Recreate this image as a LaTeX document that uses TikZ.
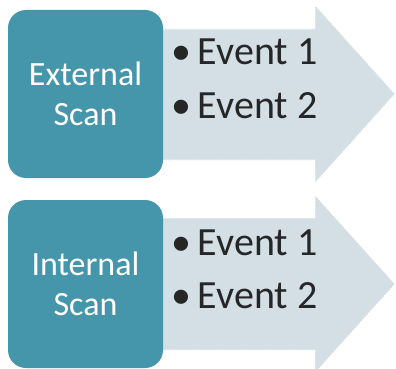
\documentclass[tikz,border=0pt]{standalone}
\usepackage{fontspec}
\setmainfont{Carlito}
\usepackage{tikz}
\usetikzlibrary{positioning}
\definecolor{scanteal}{RGB}{69,150,171}
\definecolor{arrowgray}{RGB}{211,223,229}
\definecolor{eventtext}{RGB}{38,38,38}

\begin{document}
\begin{tikzpicture}[
    x=1pt, y=-1pt,
    scan/.style={fill=scanteal, rounded corners=18pt, minimum width=155pt, minimum height=168pt,
      text=white, align=center, font=\fontsize{34}{40}\selectfont, inner sep=0pt},
    arw/.style={fill=arrowgray, draw=white, line width=0.8pt, dash pattern=on 2pt off 1pt},
    ev/.style={anchor=base west, text=eventtext, font=\fontsize{40}{46}\selectfont, inner sep=0pt}
  ]
    \useasboundingbox (0,0) rectangle (396,369);
    % ---- external scan ----
    \path[arw] (160,29) -- (315,29) -- (315,5) -- (395,94) -- (315,183) -- (315,160) -- (160,160) -- cycle;
    \node[scan] (ext) at (85.5,94) {External\\Scan};
    \node[ev] (x1) at (171,65) {\textbullet\,Event 1};
    \node[ev] (x2) at (171,118) {\textbullet\,Event 2};
    % ---- internal scan ----
    \path[arw] (160,218) -- (315,218) -- (315,195) -- (395,284) -- (315,373) -- (315,350) -- (160,350) -- cycle;
    \node[scan] (int) at (85.5,284) {Internal\\Scan};
    \node[ev] (i1) at (171,255) {\textbullet\,Event 1};
    \node[ev] (i2) at (171,308) {\textbullet\,Event 2};
  \end{tikzpicture}
\end{document}
